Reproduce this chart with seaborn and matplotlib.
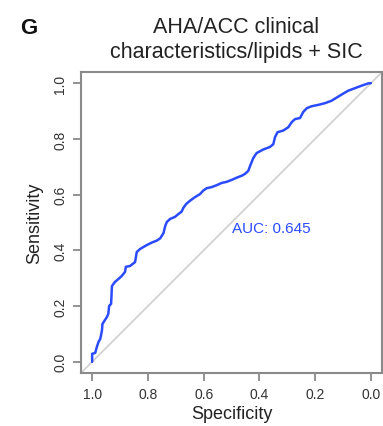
import matplotlib
matplotlib.use("Agg")
import matplotlib.pyplot as plt
import seaborn as sns
import pandas as pd

# ROC curve data (specificity, sensitivity)
specificity = [1.000, 1.000, 0.989, 0.983, 0.977, 0.971, 0.965, 0.963, 0.956, 0.947,
               0.942, 0.939, 0.932, 0.929, 0.918, 0.906, 0.894, 0.882, 0.879, 0.864,
               0.846, 0.840, 0.828, 0.816, 0.804, 0.786, 0.768, 0.756, 0.744, 0.738,
               0.732, 0.720, 0.703, 0.691, 0.679, 0.673, 0.663, 0.649, 0.631, 0.613,
               0.601, 0.589, 0.571, 0.553, 0.535, 0.517, 0.499, 0.481, 0.463, 0.452,
               0.440, 0.434, 0.422, 0.410, 0.386, 0.362, 0.350, 0.344, 0.335, 0.314,
               0.296, 0.284, 0.272, 0.254, 0.243, 0.230, 0.213, 0.189, 0.165, 0.141,
               0.123, 0.105, 0.081, 0.057, 0.033, 0.010, 0.000]
sensitivity = [0.000, 0.029, 0.032, 0.054, 0.072, 0.082, 0.111, 0.136, 0.147, 0.161,
               0.172, 0.201, 0.208, 0.272, 0.287, 0.297, 0.308, 0.323, 0.341, 0.344,
               0.358, 0.394, 0.405, 0.412, 0.419, 0.428, 0.435, 0.443, 0.462, 0.487,
               0.502, 0.513, 0.520, 0.530, 0.539, 0.552, 0.566, 0.578, 0.591, 0.602,
               0.615, 0.623, 0.627, 0.634, 0.642, 0.646, 0.653, 0.661, 0.668, 0.674,
               0.685, 0.701, 0.731, 0.749, 0.762, 0.771, 0.781, 0.806, 0.824, 0.830,
               0.842, 0.860, 0.871, 0.875, 0.896, 0.910, 0.917, 0.922, 0.928, 0.937,
               0.948, 0.959, 0.973, 0.982, 0.991, 0.999, 1.000]
tick_values = [1.0, 0.8, 0.6, 0.4, 0.2, 0.0]
tick_labels = ["1.0", "0.8", "0.6", "0.4", "0.2", "0.0"]
auc_label = "AUC: 0.645"
title_text = "AHA/ACC clinical\ncharacteristics/lipids + SIC"
panel_letter = "G"

sns.set_style("white")
plt.rcParams["font.family"] = ["Liberation Sans", "DejaVu Sans"]

df = pd.DataFrame({"Specificity": specificity, "Sensitivity": sensitivity})

fig = plt.figure(figsize=(3.83, 4.27), dpi=100)
ax = fig.add_axes([81 / 383, 1 - 374 / 427, 301 / 383, 301 / 427])

line_color = "#2b4bff"

ax.axline((1, 0), (0, 1), color="#cfcfcf", lw=1.2, zorder=1)
sns.lineplot(data=df, x="Specificity", y="Sensitivity", sort=False, estimator=None,
             color=line_color, lw=1.8, ax=ax, zorder=3)

ax.set_xlim(1.04, -0.04)
ax.set_ylim(-0.04, 1.04)
ax.set_xticks(tick_values)
ax.set_xticklabels(tick_labels)
ax.set_yticks(tick_values)
ax.set_yticklabels(tick_labels, rotation=90, va="center")

for s in ax.spines.values():
    s.set_visible(True)
    s.set_color("#8a8a8a")
    s.set_linewidth(1.5)

ax.tick_params(axis="both", direction="out", length=6, width=1.3, color="#8a8a8a",
               labelsize=10, labelcolor="#333333", pad=4, left=True, bottom=True)

ax.set_xlabel("Specificity", fontsize=13, color="#222222", labelpad=3)
ax.set_ylabel("Sensitivity", fontsize=13, color="#222222", labelpad=7)

ax.text(0.5, 0.48, auc_label, color=line_color, fontsize=11, ha="left", va="center")

fig.text(236.5 / 383, 1 - 40 / 427, title_text, ha="center", va="center",
         fontsize=15.5, color="#222222", linespacing=1.3)
fig.text(20 / 383, 1 - 29 / 427, panel_letter, ha="left", va="center",
         fontsize=16, fontweight="bold", color="#111111")

fig.savefig("out.png", dpi=100, facecolor="white")
